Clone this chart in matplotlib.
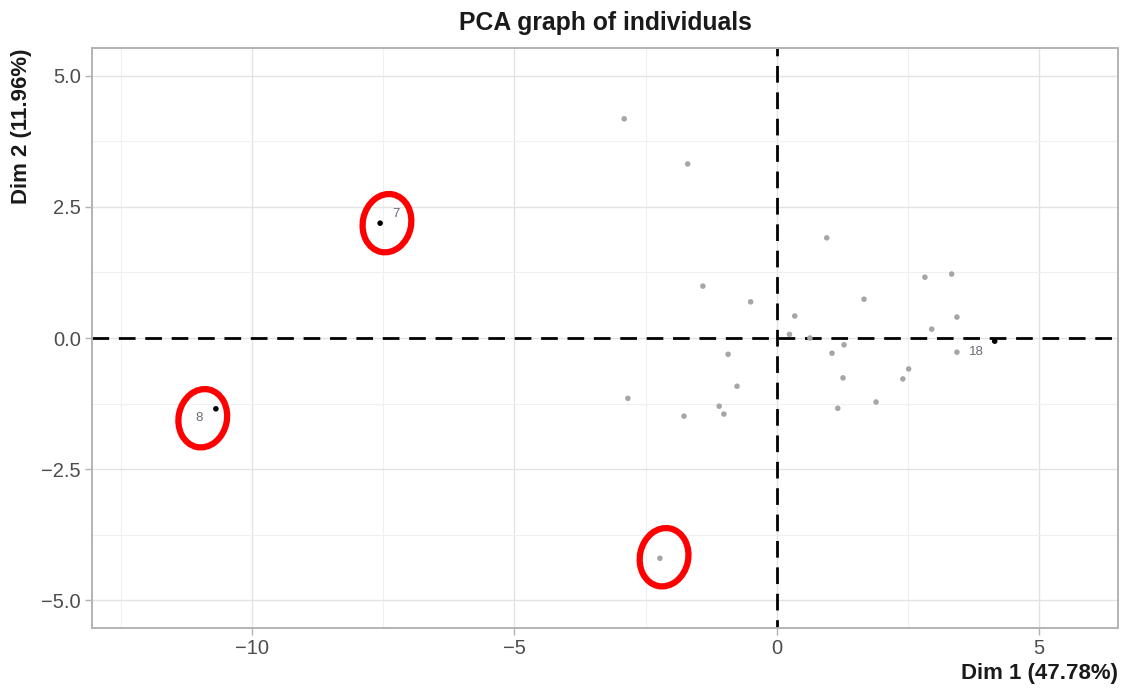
"""
PCA graph of individuals - scatter of Dim 1 vs Dim 2 with highlighted points
"""

import matplotlib
matplotlib.use('Agg')
import matplotlib.pyplot as plt
from matplotlib.patches import Ellipse

plt.rcParams['font.family'] = ['Liberation Sans', 'DejaVu Sans']

# grey individuals (Dim 1, Dim 2)
grey_x = [-2.91, -1.70, 0.95, -1.41, -0.50, 0.34, 0.24, 0.63, 1.66, 2.82,
          3.33, 3.43, 2.95, 3.43, 2.51, 2.40, 1.89, 1.28, 1.05, 1.26,
          1.16, -0.93, -0.76, -1.10, -1.01, -1.77, -2.84, -2.23]
grey_y = [4.18, 3.32, 1.91, 0.99, 0.69, 0.42, 0.07, 0.00, 0.74, 1.16,
          1.22, 0.40, 0.17, -0.27, -0.59, -0.78, -1.22, -0.13, -0.29, -0.76,
          -1.34, -0.31, -0.92, -1.30, -1.45, -1.49, -1.15, -4.20]

# highlighted individuals
hl_names = ['7', '8', '18']
hl_x = [-7.56, -10.69, 4.15]
hl_y = [2.19, -1.35, -0.06]

# individuals circled in red by hand
circled_x = [-7.56, -10.69, -2.23]
circled_y = [2.19, -1.35, -4.20]

x_ticks = [-10, -5, 0, 5]
y_ticks = [-5.0, -2.5, 0.0, 2.5, 5.0]

fig = plt.figure(figsize=(11.25, 6.89), dpi=100)
ax = fig.add_axes([0.0818, 0.0885, 0.912, 0.8418])

ax.set_xlim(-13.05, 6.5)
ax.set_ylim(-5.53, 5.53)

ax.set_xticks(x_ticks)
ax.set_xticklabels(['\u221210', '\u22125', '0', '5'])
ax.set_yticks(y_ticks)
ax.set_yticklabels(['\u22125.0', '\u22122.5', '0.0', '2.5', '5.0'])
ax.set_xticks([-12.5, -7.5, -2.5, 2.5], minor=True)
ax.set_yticks([-3.75, -1.25, 1.25, 3.75], minor=True)

ax.grid(True, which='major', color='#e3e3e3', lw=1.0)
ax.grid(True, which='minor', color='#f0f0f0', lw=0.8)
ax.set_axisbelow(True)
ax.tick_params(which='major', colors='#b3b3b3', length=5, width=1,
               labelcolor='#4d4d4d', labelsize=14.5, pad=3)
ax.tick_params(which='minor', length=0)
for s in ax.spines.values():
    s.set_color('#b3b3b3')
    s.set_linewidth(1.4)

ax.axhline(0, color='black', lw=2, ls=(0, (6, 3.5)), zorder=2)
ax.axvline(0, color='black', lw=2, ls=(3, (6, 3.5)), zorder=2)

ax.scatter(grey_x, grey_y, s=16, color='#a6a6a6', edgecolors='none', zorder=3)
ax.scatter(hl_x, hl_y, s=16, color='black', edgecolors='none', zorder=4)

# labels (placed like ggrepel did)
offsets = [(0.3, 0.17), (-0.32, -0.18), (-0.34, -0.21)]
for name, x, y, (dx, dy) in zip(hl_names, hl_x, hl_y, offsets):
    ax.text(x + dx, y + dy, name, fontsize=9.5, color='#6b6b78',
            ha='center', va='center', zorder=5)

# red hand-drawn circles
circ_offsets = [(0.13, 0.0, -12), (-0.25, -0.18, -12), (0.08, 0.02, -12)]
for x, y, (dx, dy, ang) in zip(circled_x, circled_y, circ_offsets):
    e = Ellipse((x + dx, y + dy), width=0.92, height=1.12, angle=ang,
                fill=False, edgecolor='#ff0000', lw=4.5, zorder=6)
    ax.add_patch(e)

fig.text(0.5378, 0.966, 'PCA graph of individuals', ha='center', va='center',
         fontsize=17.8, fontweight='bold', color='#1a1a1a')
fig.text(0.9938, 0.022, 'Dim 1 (47.78%)', ha='right', va='center',
         fontsize=16, fontweight='bold', color='#1a1a1a')
fig.text(0.0195, 0.9303, 'Dim 2 (11.96%)', ha='center', va='top',
         rotation=90, fontsize=16, fontweight='bold', color='#1a1a1a')

fig.savefig('out.png', dpi=100, facecolor='white')
